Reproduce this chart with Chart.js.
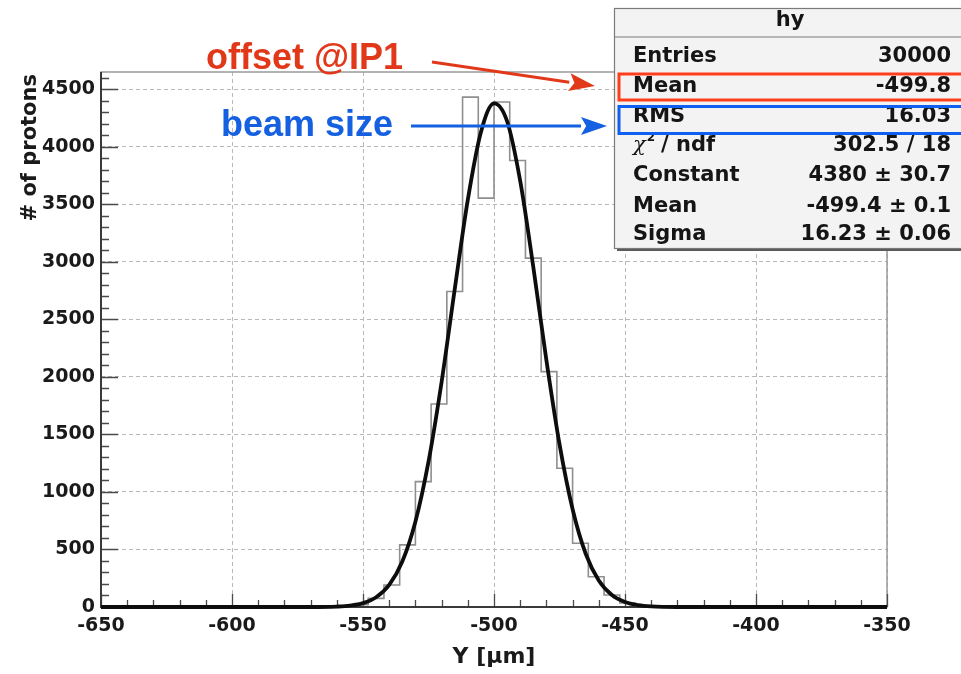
<!DOCTYPE html>
<html><head><meta charset="utf-8">
<script src="https://cdn.jsdelivr.net/npm/chart.js@4.4.1/dist/chart.umd.min.js"></script>
<style>html,body{margin:0;padding:0;background:#fff;overflow:hidden}</style>
</head><body>
<canvas id="c" width="961" height="674"></canvas>
<script>
// ---- data ----
const binEdges  = [-560,-554,-548,-542,-536,-530,-524,-518,-512,-506,-500,-494,-488,-482,-476,-470,-464,-458,-452,-446,-440];
const binCounts = [4, 20, 75, 191, 540, 1090, 1765, 2742, 4432, 3554, 4389, 3881, 3032, 2046, 1206, 554, 263, 104, 35, 10];
const fitX = [-650,-570,-560,-555,-550,-545,-540,-535,-530,-525,-520,-515,-510,-505,-500,-495,-490,-485,-480,-475,-470,-465,-460,-455,-450,-445,-440,-430,-350];
const fitY = [0, 0, 4, 12, 34, 85, 192, 395, 741, 1263, 1956, 2760, 3539, 4127, 4378, 4222, 3703, 2955, 2145, 1415, 850, 463, 230, 104, 43, 16, 5, 0, 0];
const xTickValues = [-650,-600,-550,-500,-450,-400,-350];
const yTickValues = [0,500,1000,1500,2000,2500,3000,3500,4000,4500];
const xRange = [-650, -350];
const yRange = [0, 4650];
const statsTitle = 'hy';
const statsLabels = ['Entries','Mean','RMS','CHI','Constant','Mean','Sigma'];
const statsValues = ['30000','-499.8','16.03','302.5 / 18','4380 \u00b1 30.7','-499.4 \u00b1 0.1','16.23 \u00b1 0.06'];
const xTitle = 'Y [\u03bcm]';
const yTitle = '# of protons';
const noteOffset = 'offset @IP1';
const noteBeam = 'beam size';

// ---- build datasets ----
const histPts = [{x: xRange[0], y: 0}];
binCounts.forEach((c, i) => histPts.push({x: binEdges[i], y: c}));
histPts.push({x: binEdges[binEdges.length - 1], y: 0});
histPts.push({x: xRange[1], y: 0});
const fitPts = fitX.map((x, i) => ({x: x, y: fitY[i]}));

const tickFont = {family: 'DejaVu Sans', size: 19, weight: 'bold'};

function arrow(ctx, x1, y1, x2, y2, color, w, hl, hw) {
  const a = Math.atan2(y2 - y1, x2 - x1);
  const bx = x2 - hl * Math.cos(a), by = y2 - hl * Math.sin(a);
  ctx.save();
  ctx.strokeStyle = color; ctx.fillStyle = color; ctx.lineWidth = w;
  ctx.beginPath(); ctx.moveTo(x1, y1); ctx.lineTo(bx, by); ctx.stroke();
  ctx.beginPath();
  ctx.moveTo(x2, y2);
  ctx.lineTo(bx + hw * Math.sin(a), by - hw * Math.cos(a));
  ctx.lineTo(bx + hl * 0.2 * Math.cos(a), by + hl * 0.2 * Math.sin(a));
  ctx.lineTo(bx - hw * Math.sin(a), by + hw * Math.cos(a));
  ctx.closePath(); ctx.fill();
  ctx.restore();
}

const rootDecor = {
  id: 'rootDecor',
  beforeDraw(chart) {
    const ctx = chart.ctx;
    ctx.save(); ctx.fillStyle = '#fff'; ctx.fillRect(0, 0, chart.width, chart.height); ctx.restore();
  },
  beforeDatasetsDraw(chart) {
    const ctx = chart.ctx, a = chart.chartArea;
    const xs = chart.scales.x, ys = chart.scales.y;
    ctx.save();
    // frame
    ctx.strokeStyle = '#9a9a9a'; ctx.lineWidth = 1.5;
    ctx.strokeRect(a.left, a.top, a.right - a.left, a.bottom - a.top);
    // ticks
    ctx.strokeStyle = '#4a4a4a'; ctx.lineWidth = 1.3;
    ctx.beginPath();
    for (let v = yRange[0]; v <= yRange[1]; v += 100) {
      const y = Math.round(ys.getPixelForValue(v)) + 0.5;
      const len = (v % 500 === 0) ? 17 : 8;
      ctx.moveTo(a.left, y); ctx.lineTo(a.left + len, y);
    }
    for (let v = xRange[0]; v <= xRange[1]; v += 10) {
      const x = Math.round(xs.getPixelForValue(v)) + 0.5;
      const len = (v % 50 === 0) ? 13 : 7;
      ctx.moveTo(x, a.bottom); ctx.lineTo(x, a.bottom - len);
    }
    ctx.stroke();
    // axis lines
    ctx.strokeStyle = '#3a3a3a'; ctx.lineWidth = 2;
    ctx.beginPath();
    ctx.moveTo(a.left, a.top); ctx.lineTo(a.left, a.bottom); ctx.lineTo(a.right, a.bottom);
    ctx.stroke();
    ctx.restore();
  },
  afterDraw(chart) {
    const ctx = chart.ctx, a = chart.chartArea;
    ctx.save();
    // axis titles
    ctx.fillStyle = '#1a1a1a';
    ctx.font = 'bold 21px "DejaVu Sans"';
    ctx.save();
    ctx.translate(31, a.top + 2);
    ctx.rotate(-Math.PI / 2);
    ctx.textAlign = 'right'; ctx.textBaseline = 'middle';
    ctx.fillText(yTitle, 0, 0);
    ctx.restore();
    ctx.font = 'bold 22px "DejaVu Sans"';
    ctx.textAlign = 'center'; ctx.textBaseline = 'middle';
    ctx.fillText(xTitle, 494, 657);

    // stats box
    const bx = 614, by = 8, bw = 360, bh = 240;
    ctx.fillStyle = '#5a5a5a';
    ctx.fillRect(bx + 3, by + 3, bw, bh);
    ctx.fillStyle = '#f3f3f3';
    ctx.fillRect(bx, by, bw, bh);
    ctx.strokeStyle = '#7a7a7a'; ctx.lineWidth = 1.2;
    ctx.strokeRect(bx + 0.5, by + 0.5, bw, bh);
    ctx.beginPath(); ctx.moveTo(bx, 37); ctx.lineTo(bx + bw, 37); ctx.stroke();
    ctx.fillStyle = '#151515';
    ctx.font = 'bold 21px "DejaVu Sans"';
    ctx.textAlign = 'center'; ctx.textBaseline = 'middle';
    ctx.fillText(statsTitle, 790, 21);
    const rowY = [57, 87, 116.5, 146, 176, 206.5, 235];
    statsLabels.forEach((lab, i) => {
      const y = rowY[i];
      ctx.textAlign = 'left';
      if (lab === 'CHI') {
        ctx.font = 'italic 21px "DejaVu Serif"';
        ctx.fillText('\u03c7', 633, y);
        const w = ctx.measureText('\u03c7').width;
        ctx.font = 'bold 12px "DejaVu Sans"';
        ctx.fillText('2', 633 + w + 1, y - 8);
        ctx.font = 'bold 21px "DejaVu Sans"';
        ctx.fillText(' / ndf', 633 + w + 8, y);
      } else {
        ctx.font = 'bold 21px "DejaVu Sans"';
        ctx.fillText(lab, 633, y);
      }
      ctx.font = 'bold 21px "DejaVu Sans"';
      ctx.textAlign = 'right';
      ctx.fillText(statsValues[i], 951, y);
    });

    // highlight boxes
    ctx.lineWidth = 3;
    ctx.strokeStyle = '#ff3f1c';
    ctx.strokeRect(619, 74, 360, 26);
    ctx.strokeStyle = '#0f5ff0';
    ctx.strokeRect(619, 106.5, 360, 27);

    // annotations
    ctx.font = 'bold 36px "Liberation Sans"';
    ctx.textAlign = 'left'; ctx.textBaseline = 'alphabetic';
    ctx.fillStyle = '#e2381a';
    ctx.fillText(noteOffset, 206, 69);
    ctx.fillStyle = '#1460e0';
    ctx.fillText(noteBeam, 221, 136);
    arrow(ctx, 432, 62, 595, 86, '#e2381a', 3, 26, 9);
    arrow(ctx, 411, 126, 607, 126, '#1460e0', 3, 26, 9);
    ctx.restore();
  }
};

new Chart(document.getElementById('c'), {
  type: 'line',
  data: {
    datasets: [
      {label: 'fit', data: fitPts, borderColor: '#0d0d0d', borderWidth: 3.8, pointRadius: 0,
       cubicInterpolationMode: 'monotone', fill: false, clip: false},
      {label: 'hy', data: histPts, borderColor: '#8f8f8f', borderWidth: 1.6, pointRadius: 0,
       stepped: 'before', fill: false, clip: false}
    ]
  },
  options: {
    responsive: false, animation: false, devicePixelRatio: 1,
    layout: {padding: {top: 72, right: 74, left: 0, bottom: 0}},
    plugins: {legend: {display: false}, tooltip: {enabled: false}, title: {display: false}},
    scales: {
      x: {
        type: 'linear', min: xRange[0], max: xRange[1],
        afterBuildTicks: s => { s.ticks = xTickValues.map(v => ({value: v})); },
        afterFit: s => { s.height = 67; },
        ticks: {font: tickFont, color: '#1a1a1a', padding: 8, maxRotation: 0, autoSkip: false, callback: v => String(v)},
        grid: {color: '#b8b8b8', lineWidth: 1, drawTicks: false},
        border: {display: false, dash: [4, 3]}
      },
      y: {
        type: 'linear', min: yRange[0], max: yRange[1],
        afterBuildTicks: s => { s.ticks = yTickValues.map(v => ({value: v})); },
        afterFit: s => { s.width = 101; },
        ticks: {font: tickFont, color: '#1a1a1a', padding: 6, autoSkip: false, callback: v => String(v)},
        grid: {color: '#b8b8b8', lineWidth: 1, drawTicks: false},
        border: {display: false, dash: [4, 3]}
      }
    }
  },
  plugins: [rootDecor]
});
</script>
</body></html>
